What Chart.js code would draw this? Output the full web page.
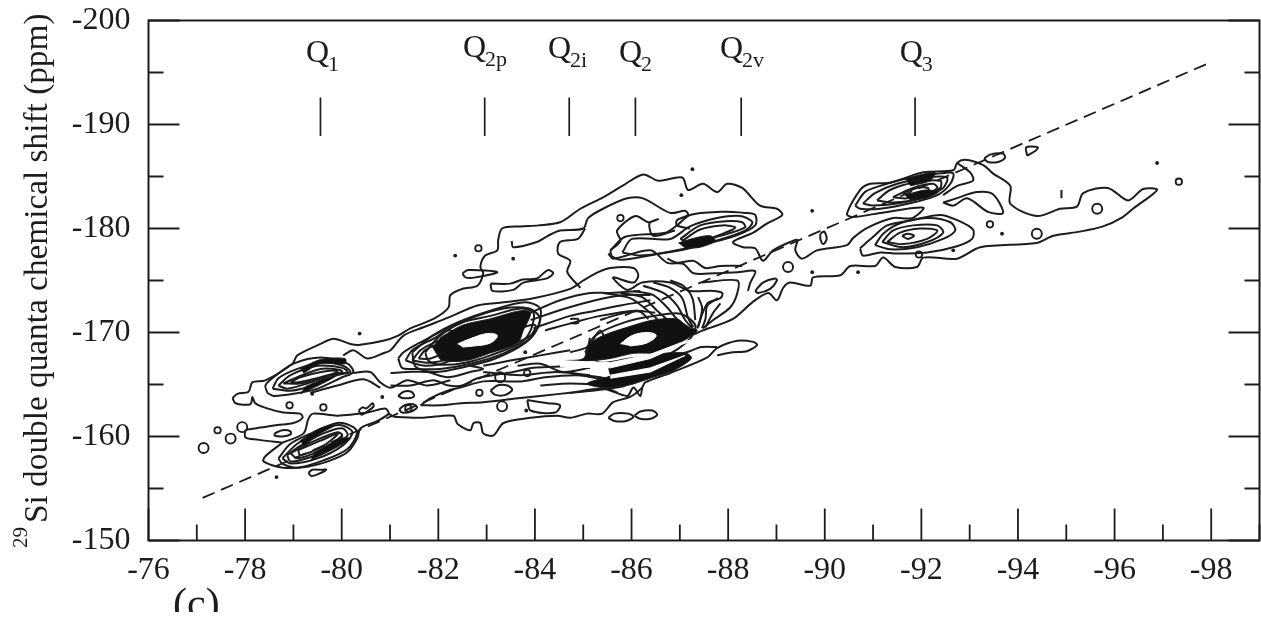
<!DOCTYPE html>
<html lang="en">
<head>
<meta charset="UTF-8">
<title>29Si double quanta spectrum</title>
<script src="https://cdn.jsdelivr.net/npm/chart.js"></script>
<style>
    html, body { margin: 0; padding: 0; background: #fff; overflow: hidden; }
    canvas { display: block; filter: blur(0.45px); }
</style>
</head>
<body>
<canvas id="spectrum" width="1267" height="619"></canvas>
<script>
// axis ranges
const xRange = [-99, -76];
const yRange = [-200, -150];
const yTitle = "Si double quanta chemical shift (ppm)";

// Q site markers
const qSubs = ["1", "2p", "2i", "2", "2v", "3"];
const qStickX = [-79.56, -82.96, -84.71, -86.08, -88.27, -91.87];
const qStickY = [-192.6, -188.9];
const qLabelX = [-79.26, -82.51, -84.27, -85.74, -87.83, -91.55];
const qLabelY = [-196.0, -196.5, -196.4, -196.0, -196.4, -196.0];

// correlation diagonal
const diagonal = [[-77.12, -154.1], [-98.0, -196.0]];

// main outer contour, Q1 to the Q3 wing and back under it
const outerMain = [[-77.74,-163.7],[-77.84,-164.1],[-78.07,-164.3],[-78.15,-165.2],[-78.42,-165.4],[-78.98,-167.0],[-79.08,-167.8],[-79.56,-168.9],[-79.83,-169.4],[-80.18,-168.9],[-80.35,-168.8],[-80.86,-169.2],[-81.17,-169.7],[-81.42,-170.4],[-81.90,-171.3],[-82.21,-172.4],[-82.25,-173.6],[-82.50,-174.2],[-82.81,-174.5],[-82.93,-175.7],[-82.87,-176.3],[-82.97,-177.4],[-83.22,-177.9],[-83.24,-178.9],[-83.32,-180.0],[-83.70,-180.2],[-84.07,-180.3],[-84.52,-180.6],[-84.94,-181.9],[-85.41,-183.0],[-85.81,-184.1],[-86.24,-185.2],[-86.55,-184.6],[-87.05,-184.9],[-87.17,-183.7],[-87.48,-184.3],[-87.77,-183.5],[-87.98,-184.3],[-88.29,-183.9],[-88.66,-182.2],[-89.01,-181.9],[-89.12,-181.3],[-88.81,-180.5],[-88.52,-179.6],[-88.10,-178.7],[-88.31,-178.2],[-88.56,-178.1],[-88.72,-176.9],[-88.93,-177.9],[-89.28,-178.7],[-89.43,-178.9],[-89.39,-177.9],[-89.53,-177.1],[-89.84,-177.9],[-90.46,-178.4],[-90.59,-179.1],[-90.90,-180.1],[-91.41,-181.0],[-91.81,-181.0],[-92.04,-182.0],[-91.15,-181.5],[-90.59,-181.1],[-90.46,-181.4],[-90.73,-183.7],[-90.94,-184.3],[-91.35,-184.4],[-92.04,-185.4],[-92.66,-185.6],[-92.74,-186.3],[-92.90,-186.6],[-93.28,-186.1],[-93.48,-185.3],[-93.84,-184.1],[-93.84,-182.4],[-94.39,-181.2],[-94.87,-181.9],[-95.22,-182.1],[-95.35,-183.4],[-95.86,-183.9],[-96.28,-182.7],[-96.59,-183.8],[-96.88,-183.7],[-96.38,-181.9],[-96.17,-181.1],[-95.76,-180.2],[-95.28,-179.7],[-94.73,-179.3],[-94.39,-178.6],[-93.22,-178.2],[-92.74,-177.1],[-92.04,-177.2],[-91.91,-176.3],[-91.46,-176.3],[-91.21,-177.2],[-91.04,-176.4],[-90.53,-176.4],[-90.32,-175.5],[-89.76,-175.3],[-89.70,-174.5],[-89.28,-174.8],[-89.14,-174.3],[-89.01,-173.1],[-88.83,-173.8],[-88.50,-172.9],[-88.10,-171.3],[-87.48,-170.2],[-87.28,-169.8]];
const q1Left = [[-77.74,-163.7],[-77.80,-163.2],[-78.11,-163.1],[-78.15,-163.8],[-78.21,-163.2],[-78.46,-162.7],[-78.79,-162.3],[-79.14,-162.2],[-79.19,-161.8],[-79.00,-161.3],[-78.67,-161.1],[-78.38,-160.9],[-78.11,-160.7],[-78.01,-160.6],[-78.01,-159.9],[-78.26,-159.7],[-78.77,-159.4]];
const q1LowOuter = [[-78.77,-159.4],[-78.42,-158.1],[-78.38,-157.6],[-78.79,-157.0],[-79.29,-157.1],[-79.77,-157.7],[-80.12,-158.5],[-80.32,-159.8],[-80.39,-160.8],[-80.74,-161.5],[-80.97,-162.2],[-80.90,-162.7],[-80.53,-162.3],[-79.91,-162.0],[-79.41,-162.2],[-79.31,-161.7],[-79.21,-160.3],[-78.77,-159.4]];
const bottomEdge = [[-81.07,-161.9],[-81.69,-161.8],[-82.31,-162.0],[-82.40,-161.2],[-82.66,-160.6],[-82.73,-161.3],[-82.87,-161.3],[-82.93,-160.3],[-83.14,-160.1],[-83.35,-161.3],[-83.91,-161.8],[-84.46,-162.0],[-84.73,-161.8],[-85.08,-162.2],[-85.39,-162.2],[-85.62,-163.3],[-85.97,-163.8],[-86.22,-164.7],[-86.28,-165.2],[-86.80,-166.1],[-87.57,-167.6],[-87.77,-168.5],[-88.19,-169.2],[-88.52,-169.1],[-88.60,-168.8],[-88.39,-168.2],[-88.10,-168.1],[-87.77,-167.8]];
const bottomLink = [[-80.97,-162.2],[-81.07,-161.9]];
const q2LobeTop = [[-87.77,-168.6],[-87.45,-168.6],[-87.14,-168.1],[-86.80,-167.7]];

// upper contours through the middle
const upperInner = [[-80.03,-167.8],[-80.24,-168.3],[-80.53,-167.5],[-80.86,-168.0],[-81.01,-168.3],[-81.28,-169.7],[-81.69,-170.5],[-82.19,-171.4],[-82.81,-172.6],[-83.35,-172.9],[-83.97,-173.3],[-84.73,-174.2],[-85.00,-175.0],[-85.31,-175.8],[-85.56,-176.2],[-86.04,-176.2],[-86.14,-175.5],[-86.04,-174.8],[-85.62,-175.3],[-85.77,-174.5],[-85.93,-174.1],[-86.22,-174.8],[-86.80,-174.8],[-87.21,-174.0],[-87.69,-174.0],[-87.88,-173.8],[-87.84,-173.3],[-87.57,-172.8],[-87.36,-170.4]];
const upperRight = [[-87.46,-174.8],[-88.19,-175.0],[-88.19,-173.8],[-88.04,-172.4],[-87.69,-171.2],[-87.48,-170.4]];
const upperBand = [[-85.52,-177.6],[-85.62,-177.1],[-86.39,-177.9],[-86.74,-176.7],[-87.07,-176.6],[-87.28,-175.7],[-87.73,-175.7],[-88.19,-175.8],[-88.56,-175.9],[-88.46,-174.8],[-88.41,-174.0]];
const bandLower = [[-86.74,-177.1],[-86.94,-176.7],[-87.28,-176.9],[-87.53,-176.2],[-87.84,-176.4],[-88.29,-176.4]];
const lobeFar = [[-88.56,-174.0],[-88.72,-174.8],[-88.97,-175.2],[-89.01,-175.0],[-88.87,-174.2],[-88.62,-173.8],[-88.56,-174.0]];
const lobeMid = [[-83.08,-174.7],[-83.12,-174.0],[-83.55,-174.1],[-83.76,-174.8],[-84.25,-175.2],[-84.38,-175.7],[-84.27,-176.0],[-84.04,-175.2],[-83.74,-175.1],[-83.49,-174.7],[-83.08,-174.7]];
const lobeSmall = [[-82.50,-175.7],[-82.62,-176.0],[-83.22,-175.8],[-82.77,-175.3],[-82.56,-175.3],[-82.50,-175.7]];
const leftSecond = [[-83.52,-178.8],[-83.55,-178.2],[-84.04,-178.7],[-84.27,-179.3],[-84.52,-179.8],[-85.00,-180.0],[-85.10,-181.0],[-85.41,-181.9],[-85.91,-182.9],[-86.24,-182.9],[-86.80,-181.5],[-87.11,-181.7],[-87.17,-181.3],[-86.94,-180.8],[-86.94,-180.3],[-87.21,-180.0]];
const leftThird = [[-84.94,-174.3],[-84.67,-175.8],[-84.73,-176.9],[-84.48,-177.6],[-84.52,-178.7],[-84.89,-179.0],[-85.04,-180.0]];
const q2vFinger = [[-85.56,-177.9],[-85.77,-178.8],[-85.70,-179.8],[-86.08,-181.2],[-86.35,-180.6],[-86.55,-180.9],[-86.37,-180.5],[-86.45,-179.3],[-86.90,-179.8]];

// Q2v rings
const q2vRing1 = [[-85.56,-177.9],[-85.60,-177.3],[-85.81,-177.0],[-86.59,-177.6],[-87.42,-178.4],[-88.15,-179.3],[-88.56,-180.3],[-88.56,-181.3],[-88.35,-181.5],[-87.84,-181.6],[-87.21,-181.3],[-86.94,-180.3],[-86.70,-179.6],[-85.87,-179.2],[-85.56,-177.9]];
const q2vRing2 = [[-85.81,-177.7],[-86.01,-179.0],[-86.80,-179.0],[-87.21,-180.2],[-87.77,-181.0],[-88.25,-181.2],[-88.50,-180.6],[-88.35,-179.8],[-87.73,-178.8],[-87.01,-177.9],[-86.18,-177.4],[-85.81,-177.7]];
const q2vRing3 = [[-87.01,-179.0],[-87.42,-180.3],[-87.94,-180.7],[-88.29,-180.6],[-88.35,-180.1],[-87.84,-179.3],[-87.21,-178.6],[-87.01,-179.0]];
const q2vRing4 = [[-87.05,-178.8],[-87.42,-179.9],[-87.88,-180.3],[-88.15,-180.1],[-87.94,-179.6],[-87.21,-178.4],[-87.05,-178.8]];
const q2vDark = [[-86.97,-178.6],[-87.32,-179.1],[-87.63,-179.3],[-87.73,-178.8],[-87.42,-178.2],[-87.11,-178.1]];

// contours fanning out of the Q2 peak
const fanLines = [
    [[-86.80,-175.0],[-87.07,-174.5],[-87.26,-173.3],[-87.32,-171.2]],
    [[-86.45,-174.8],[-86.80,-174.3],[-87.05,-173.3],[-87.17,-171.4],[-87.28,-170.5]],
    [[-86.24,-174.5],[-86.66,-173.8],[-86.94,-172.6],[-87.11,-171.2],[-87.26,-170.4]],
    [[-86.04,-174.0],[-86.45,-173.6],[-86.74,-172.4],[-86.94,-171.3],[-87.21,-170.4]],
    [[-85.77,-173.8],[-86.22,-173.4],[-86.53,-172.1],[-86.80,-171.0]],
    [[-85.41,-173.8],[-85.97,-173.3],[-86.28,-172.3],[-86.55,-171.2]],
    [[-87.38,-173.4],[-87.46,-172.4],[-87.42,-171.2],[-87.38,-170.5]],
    [[-87.79,-173.3],[-87.57,-172.6],[-87.53,-171.3],[-87.46,-170.4]],
    [[-87.84,-172.8],[-87.69,-171.9],[-87.53,-170.5]]
];
const hatchLines = [
    [[-83.91,-171.9],[-84.52,-173.1],[-85.14,-173.8],[-85.56,-173.8],[-86.18,-174.0]],
    [[-83.91,-171.2],[-84.63,-172.3],[-85.25,-173.1],[-85.87,-173.6],[-86.39,-173.6]],
    [[-83.97,-170.4],[-84.73,-171.6],[-85.25,-172.1],[-85.77,-172.6],[-86.39,-173.1]],
    [[-84.21,-170.2],[-84.83,-171.0],[-85.35,-171.6],[-86.08,-172.1],[-86.49,-171.9]],
    [[-85.35,-171.2],[-85.62,-171.6],[-85.97,-172.0],[-86.18,-172.0],[-86.35,-171.3]],
    [[-84.73,-171.3],[-84.89,-171.3],[-84.89,-170.9],[-84.73,-170.9]]
];

// long contours under the Q2p and Q2 peaks
const lowerLines = [
    [[-80.24,-166.1],[-80.59,-166.2],[-80.80,-165.2],[-81.01,-164.7],[-81.36,-165.4],[-81.77,-164.9],[-82.25,-165.4]],
    [[-79.35,-164.2],[-79.91,-164.9],[-80.45,-165.5],[-80.80,-164.7]],
    [[-81.01,-166.1],[-81.36,-166.2],[-81.77,-166.2],[-82.19,-165.7],[-82.66,-166.2],[-82.93,-166.5],[-82.66,-166.8]],
    [[-81.01,-164.9],[-81.42,-164.9],[-81.90,-165.4],[-82.21,-164.9],[-82.50,-164.9],[-82.81,-165.6],[-83.55,-166.2],[-83.97,-166.6],[-84.67,-166.8],[-85.14,-167.5]],
    [[-83.64,-166.8],[-84.11,-167.0],[-84.59,-166.2],[-85.14,-166.6]],
    [[-84.73,-166.1],[-85.56,-165.4],[-86.18,-165.6]],
    [[-84.73,-164.2],[-85.41,-164.6],[-85.91,-163.9],[-86.04,-164.7],[-86.18,-163.9],[-86.22,-164.7]],
    [[-82.93,-166.8],[-83.49,-167.3],[-84.11,-167.8],[-84.73,-168.3]],
    [[-85.14,-169.5],[-85.08,-168.6],[-84.73,-168.1]],
    [[-82.93,-166.2],[-83.70,-165.9],[-84.43,-166.2],[-85.14,-165.9]],
    [[-84.11,-164.9],[-84.73,-165.1],[-85.35,-164.9],[-85.72,-164.2]]
];
const lobeLower = [[-81.63,-163.0],[-81.84,-163.7],[-82.25,-164.5],[-82.46,-164.7],[-82.93,-165.3],[-83.70,-165.3],[-84.21,-165.7],[-84.83,-165.9],[-85.35,-165.7],[-85.87,-164.9],[-85.35,-164.5],[-84.73,-164.2],[-84.11,-163.9],[-83.70,-163.7],[-82.93,-163.3],[-82.46,-163.2],[-82.04,-163.0],[-81.63,-163.0]];
const lobeLower2 = [[-83.84,-163.5],[-84.27,-163.2],[-84.52,-163.0],[-84.42,-162.3],[-83.91,-162.5],[-83.84,-163.5]];

// Q1 rings
const q1Upper = [
    [[-78.46,-164.2],[-78.42,-164.9],[-78.59,-165.7],[-79.00,-167.0],[-79.56,-167.6],[-80.12,-167.0],[-80.24,-166.2],[-80.01,-165.7],[-79.50,-164.6],[-79.00,-164.1],[-78.59,-163.9],[-78.46,-164.2]],
    [[-78.57,-164.6],[-78.69,-165.6],[-79.08,-166.5],[-79.56,-167.1],[-80.03,-166.8],[-80.18,-166.2],[-79.91,-165.9],[-79.41,-164.9],[-78.94,-164.4],[-78.57,-164.6]],
    [[-78.69,-164.9],[-78.94,-165.9],[-79.50,-166.8],[-80.01,-166.6],[-80.12,-166.2],[-79.77,-165.9],[-79.29,-165.1],[-78.87,-164.6],[-78.69,-164.9]],
    [[-78.79,-165.1],[-79.08,-165.7],[-79.56,-166.5],[-79.97,-166.4],[-80.01,-166.2],[-79.62,-165.7],[-79.14,-165.1],[-78.79,-165.1]],
    [[-78.94,-165.2],[-79.14,-165.7],[-79.70,-166.3],[-79.91,-166.3],[-79.87,-166.1],[-79.56,-165.7],[-79.08,-165.2],[-78.94,-165.2]]
];
const q1Lower = [
    [[-78.69,-157.9],[-78.94,-159.3],[-79.41,-160.4],[-79.91,-161.3],[-80.24,-160.9],[-80.32,-160.3],[-80.12,-158.8],[-79.62,-157.7],[-79.08,-157.0],[-78.77,-157.4],[-78.69,-157.9]],
    [[-78.77,-157.9],[-79.08,-159.3],[-79.56,-160.6],[-79.97,-161.1],[-80.22,-160.4],[-80.01,-159.1],[-79.50,-157.9],[-78.94,-157.4],[-78.77,-157.9]],
    [[-78.87,-158.2],[-79.14,-159.1],[-79.62,-160.3],[-80.01,-160.8],[-80.12,-160.1],[-79.77,-158.9],[-79.35,-158.0],[-78.94,-157.6],[-78.87,-158.2]],
    [[-78.94,-158.4],[-79.35,-159.4],[-79.91,-160.4],[-80.01,-160.1],[-79.56,-158.7],[-79.08,-157.9],[-78.94,-158.4]],
    [[-79.10,-158.7],[-79.56,-159.6],[-79.93,-160.3],[-79.62,-159.1],[-79.14,-158.2],[-79.10,-158.7]]
];

// Q2p and Q2 rings
const q2pRings = [
    [[-81.17,-167.5],[-81.28,-168.1],[-81.69,-169.2],[-82.19,-170.4],[-82.81,-171.6],[-83.35,-172.3],[-83.76,-172.4],[-83.97,-172.1],[-84.11,-171.2],[-83.91,-169.5],[-83.35,-168.0],[-82.66,-167.0],[-82.04,-166.5],[-81.48,-166.5],[-81.25,-166.6],[-81.17,-167.5]],
    [[-81.46,-168.1],[-81.88,-169.7],[-82.41,-171.0],[-83.08,-172.1],[-83.80,-172.9],[-84.11,-172.3],[-84.05,-170.4],[-83.80,-169.0],[-83.18,-167.5],[-82.56,-166.7],[-81.94,-166.2],[-81.53,-166.7],[-81.46,-168.1]],
    [[-81.73,-168.1],[-82.04,-169.7],[-82.52,-171.0],[-83.08,-171.6],[-83.70,-172.3],[-83.97,-171.9],[-83.91,-170.2],[-83.70,-169.0],[-83.08,-167.8],[-82.56,-167.1],[-82.04,-166.9],[-81.79,-167.3],[-81.73,-168.1]],
    [[-81.32,-167.3],[-81.46,-168.3],[-81.90,-169.4],[-82.25,-170.2],[-82.66,-168.8],[-82.25,-167.3],[-81.73,-166.8],[-81.32,-167.3]],
    [[-81.46,-167.3],[-81.63,-168.3],[-82.00,-169.2],[-82.35,-169.7],[-82.35,-167.8],[-81.84,-167.1],[-81.46,-167.3]],
    [[-81.59,-167.5],[-81.73,-168.3],[-82.00,-168.8],[-82.15,-168.3],[-81.84,-167.5],[-81.59,-167.5]],
    [[-83.27,-169.4],[-83.70,-170.4],[-84.01,-170.7],[-83.91,-169.7],[-83.49,-168.9],[-83.27,-169.4]]
];
const q2Rings = [
    [[-85.04,-168.1],[-85.25,-169.7],[-85.87,-171.0],[-86.49,-171.6],[-87.01,-171.8],[-87.32,-170.7],[-87.21,-169.4],[-86.70,-167.8],[-85.97,-167.5],[-85.35,-167.1],[-85.04,-168.1]],
    [[-85.19,-169.2],[-85.35,-170.2],[-85.47,-168.8],[-85.29,-168.1],[-85.19,-169.2]]
];

// Q3 rings
const q3Upper = [
    [[-90.63,-182.2],[-90.83,-183.5],[-91.15,-184.1],[-91.70,-184.8],[-92.39,-185.3],[-92.66,-185.3],[-92.60,-184.3],[-92.33,-183.2],[-91.83,-182.5],[-91.15,-181.9],[-90.73,-181.9],[-90.63,-182.2]],
    [[-90.79,-182.4],[-91.04,-183.4],[-91.50,-184.3],[-92.12,-184.9],[-92.53,-184.9],[-92.45,-183.9],[-92.04,-183.0],[-91.50,-182.4],[-90.99,-182.2],[-90.79,-182.4]],
    [[-91.08,-182.7],[-91.35,-183.7],[-91.83,-184.4],[-92.39,-184.6],[-92.39,-183.9],[-91.97,-182.9],[-91.41,-182.5],[-91.08,-182.7]],
    [[-91.41,-183.0],[-91.83,-183.9],[-92.24,-184.3],[-92.33,-183.9],[-92.04,-183.2],[-91.70,-182.9],[-91.41,-183.0]],
    [[-91.62,-183.4],[-91.91,-183.9],[-92.14,-183.9],[-92.14,-183.6],[-91.91,-183.2],[-91.62,-183.4]]
];
const q3Lower = [
    [[-90.73,-178.1],[-90.98,-179.1],[-91.29,-180.3],[-91.81,-180.8],[-92.39,-181.3],[-92.74,-180.8],[-93.07,-179.9],[-93.05,-179.0],[-92.74,-178.3],[-92.12,-177.7],[-91.50,-177.6],[-91.15,-177.7],[-90.79,-177.4],[-90.73,-178.1]],
    [[-91.04,-178.4],[-91.21,-179.5],[-91.56,-180.5],[-92.12,-181.0],[-92.60,-180.6],[-92.70,-179.8],[-92.45,-179.0],[-91.91,-178.2],[-91.35,-178.0],[-91.04,-178.4]],
    [[-91.19,-178.7],[-91.41,-179.8],[-91.83,-180.3],[-92.33,-180.3],[-92.45,-179.6],[-92.12,-178.7],[-91.62,-178.2],[-91.19,-178.7]],
    [[-91.29,-178.7],[-91.56,-179.6],[-91.97,-180.0],[-92.33,-179.8],[-92.12,-179.0],[-91.62,-178.5],[-91.29,-178.7]],
    [[-91.60,-179.3],[-91.72,-179.5],[-91.85,-179.3],[-91.72,-179.0],[-91.60,-179.3]]
];
const q3Lobe = [[-92.45,-182.5],[-92.66,-182.8],[-93.15,-183.5],[-93.48,-183.3],[-93.69,-181.5],[-93.38,-181.6],[-92.95,-182.9],[-92.66,-182.2],[-92.45,-182.5]];
const q3Inner = [[-92.74,-186.3],[-93.01,-185.4],[-93.07,-184.6],[-92.74,-184.1],[-92.45,-183.2]];

// small closed islands
const islands = [
    [[-93.30,-186.7],[-93.42,-187.1],[-93.69,-187.2],[-93.73,-186.8],[-93.59,-186.4],[-93.38,-186.4],[-93.30,-186.7]],
    [[-94.19,-187.0],[-94.17,-187.8],[-94.41,-187.8],[-94.37,-187.5],[-94.19,-187.0]],
    [[-89.91,-179.5],[-89.99,-179.7],[-90.04,-179.0],[-89.97,-178.5],[-89.91,-179.0],[-89.91,-179.5]],
    [[-94.90,-183.7],[-94.90,-182.9]],
    [[-85.52,-161.8],[-85.64,-162.2],[-85.93,-162.2],[-86.04,-161.9],[-85.89,-161.5],[-85.64,-161.5],[-85.52,-161.8]],
    [[-86.06,-162.0],[-86.18,-162.4],[-86.43,-162.5],[-86.53,-162.1],[-86.39,-161.7],[-86.18,-161.7],[-86.06,-162.0]],
    [[-78.61,-160.3],[-78.77,-160.6],[-78.94,-160.5],[-78.94,-160.2],[-78.77,-160.0],[-78.61,-160.1],[-78.61,-160.3]],
    [[-80.35,-162.5],[-80.43,-162.8],[-80.51,-162.7],[-80.64,-163.2],[-80.66,-162.9],[-80.53,-162.4],[-80.41,-162.1],[-80.35,-162.5]],
    [[-81.17,-163.9],[-81.28,-164.3],[-81.44,-164.3],[-81.50,-163.9],[-81.42,-163.7],[-81.25,-163.7],[-81.17,-163.9]],
    [[-81.19,-162.6],[-81.30,-163.0],[-81.48,-163.1],[-81.56,-162.8],[-81.44,-162.4],[-81.25,-162.3],[-81.19,-162.6]],
    [[-79.31,-156.5],[-79.39,-156.8],[-79.56,-156.8],[-79.68,-156.8],[-79.52,-156.4],[-79.37,-156.2],[-79.31,-156.5]],
    [[-83.08,-164.4],[-83.22,-164.9],[-83.43,-164.9],[-83.53,-164.5],[-83.39,-164.0],[-83.18,-164.0],[-83.08,-164.4]]
];
const ringsLarge = [[-77.14,-158.9],[-77.70,-159.8],[-77.94,-160.9],[-89.24,-176.3],[-94.39,-179.5],[-95.64,-181.9],[-83.32,-162.9],[-83.28,-165.7]];
const ringsSmall = [[-77.43,-160.6],[-78.92,-163.0],[-79.62,-162.8],[-91.95,-177.5],[-93.42,-180.4],[-97.33,-184.5],[-85.77,-181.0],[-82.85,-164.2],[-83.84,-166.1],[-82.83,-178.1],[-81.38,-162.7]];
const dots = [[-79.39,-164.1],[-78.65,-156.1],[-80.84,-163.8],[-80.37,-169.9],[-87.26,-185.7],[-87.03,-183.2],[-89.74,-181.7],[-89.74,-175.8],[-90.69,-175.8],[-96.88,-186.3],[-93.67,-179.5],[-92.66,-177.9],[-82.35,-177.4],[-83.55,-177.1],[-83.82,-162.5],[-83.80,-168.1]];

// solid black areas where the rings merge, and the white peak centres
const darkAreas = [
    [[-82.04,-169.5],[-82.50,-170.7],[-83.06,-171.3],[-83.70,-172.1],[-83.91,-171.9],[-83.76,-170.2],[-83.64,-169.0],[-83.06,-168.0],[-82.58,-167.3],[-82.08,-167.3],[-81.96,-168.0],[-81.88,-168.6]],
    [[-84.63,-167.3],[-85.00,-167.5],[-85.14,-168.9],[-85.41,-169.7],[-85.91,-170.5],[-86.45,-171.2],[-86.94,-171.3],[-87.17,-170.5],[-87.36,-170.2],[-87.07,-169.2],[-86.59,-168.1],[-86.04,-168.0],[-85.56,-167.5],[-85.00,-167.2]],
    [[-85.49,-167.0],[-86.04,-167.5],[-86.66,-168.0],[-87.14,-168.0],[-87.24,-167.5],[-86.85,-166.3],[-86.45,-165.7],[-85.91,-164.9],[-85.41,-164.7],[-85.08,-165.1],[-85.56,-165.8]],
    [[-79.14,-166.5],[-79.56,-167.4],[-80.07,-167.5],[-80.07,-167.0],[-79.56,-167.0],[-79.21,-166.1]],
    [[-79.14,-164.1],[-79.56,-165.0],[-79.87,-165.8],[-79.66,-165.6],[-79.25,-164.8]],
    [[-79.14,-159.6],[-79.56,-160.8],[-79.87,-161.1],[-79.56,-160.3],[-79.21,-159.1]],
    [[-79.35,-157.7],[-79.87,-158.9],[-80.18,-159.8],[-79.97,-159.8],[-79.45,-158.5]],
    [[-91.66,-183.2],[-92.08,-183.7],[-92.35,-183.5],[-92.08,-182.9],[-91.77,-182.7]],
    [[-91.66,-184.8],[-92.28,-185.4],[-92.18,-184.6],[-91.77,-184.1]],
    q2vDark
];
const peakCentres = [
    [[-82.40,-168.9],[-82.66,-169.4],[-83.02,-169.9],[-83.22,-169.7],[-83.08,-169.0],[-82.73,-168.7],[-82.50,-168.6]],
    [[-85.77,-168.9],[-86.01,-169.7],[-86.34,-170.0],[-86.51,-169.7],[-86.32,-169.0],[-85.97,-168.7]]
];
const whiteSlits = [
    [[-85.56,-165.9],[-86.39,-166.6],[-87.11,-167.8],[-86.39,-166.2],[-85.56,-165.6]],
    [[-84.52,-167.3],[-85.56,-167.1],[-86.39,-167.9],[-87.01,-169.0],[-87.53,-169.7],[-87.01,-168.8],[-86.39,-167.5],[-85.56,-166.6],[-84.52,-166.7]]
];

const contourLines = [
    outerMain, q1Left, q1LowOuter, bottomEdge, bottomLink, q2LobeTop,
    upperInner, upperRight, upperBand, bandLower, lobeFar, lobeMid, lobeSmall,
    leftSecond, leftThird, q2vFinger, q2vRing1, q2vRing2, q2vRing3, q2vRing4,
    lobeLower, lobeLower2, q3Lobe, q3Inner,
    ...fanLines, ...hatchLines, ...lowerLines,
    ...q1Upper, ...q1Lower, ...q2pRings, ...q2Rings, ...q3Upper, ...q3Lower, ...islands
];

const ink = "#1c1c1c";
const serif = "'Liberation Serif', serif";

function toPoints(pairs) {
    return pairs.map(p => ({ x: p[0], y: p[1] }));
}

const datasets = [];

contourLines.forEach(line => {
    datasets.push({ data: toPoints(line), showLine: true, borderColor: ink, borderWidth: 2, pointRadius: 0, tension: 0.3, order: 5 });
});
darkAreas.forEach(area => {
    datasets.push({ data: toPoints(area), showLine: true, borderColor: ink, borderWidth: 1, backgroundColor: "#111", fill: "shape", pointRadius: 0, tension: 0.3, order: 3 });
});
peakCentres.forEach(area => {
    datasets.push({ data: toPoints(area), showLine: true, borderColor: "#fff", borderWidth: 1, backgroundColor: "#fff", fill: "shape", pointRadius: 0, tension: 0.4, order: 2 });
});
whiteSlits.forEach(area => {
    datasets.push({ data: toPoints(area), showLine: true, borderColor: "#fff", borderWidth: 1, backgroundColor: "#fff", fill: "shape", pointRadius: 0, tension: 0, order: 2 });
});

datasets.push({ data: toPoints(ringsLarge), pointRadius: 5, pointBorderColor: ink, pointBorderWidth: 1.9, pointBackgroundColor: "rgba(0,0,0,0)", order: 4 });
datasets.push({ data: toPoints(ringsSmall), pointRadius: 3.2, pointBorderColor: ink, pointBorderWidth: 1.8, pointBackgroundColor: "rgba(0,0,0,0)", order: 4 });
datasets.push({ data: toPoints(dots), pointRadius: 1.9, pointBorderWidth: 0, pointBackgroundColor: ink, order: 4 });

datasets.push({ data: toPoints(diagonal), showLine: true, borderColor: ink, borderWidth: 1.8, borderDash: [13, 7], pointRadius: 0, order: 6 });

qStickX.forEach(x => {
    datasets.push({ data: qStickY.map(y => ({ x: x, y: y })), showLine: true, borderColor: ink, borderWidth: 1.7, pointRadius: 0, order: 1 });
});

// frame, inward ticks and the texts Chart.js has no option for
const paperPlugin = {
    id: "paper",
    afterDatasetsDraw(chart) {
        const ctx = chart.ctx;
        const area = chart.chartArea;
        const sx = chart.scales.x;
        const sy = chart.scales.y;
        ctx.save();
        ctx.strokeStyle = ink;
        ctx.lineWidth = 2;
        ctx.strokeRect(area.left, area.top, area.right - area.left, area.bottom - area.top);
        ctx.lineWidth = 1.8;
        ctx.beginPath();
        sx.ticks.forEach(t => {
            const px = sx.getPixelForValue(t.value);
            const len = t.value % 2 === 0 ? 32 : 16;
            ctx.moveTo(px, area.bottom);
            ctx.lineTo(px, area.bottom - len);
        });
        sy.ticks.forEach(t => {
            const py = sy.getPixelForValue(t.value);
            const len = t.value % 10 === 0 ? 31 : 15;
            ctx.moveTo(area.left, py);
            ctx.lineTo(area.left + len, py);
            ctx.moveTo(area.right, py);
            ctx.lineTo(area.right - len, py);
        });
        ctx.stroke();

        ctx.fillStyle = ink;
        ctx.textBaseline = "alphabetic";
        ctx.textAlign = "left";
        qSubs.forEach((sub, i) => {
            const px = sx.getPixelForValue(qLabelX[i]);
            const py = sy.getPixelForValue(qLabelY[i]);
            ctx.font = "32px " + serif;
            ctx.fillText("Q", px, py);
            const w = ctx.measureText("Q").width;
            ctx.font = "22px " + serif;
            ctx.fillText(sub, px + w - 1, py + 9);
        });

        ctx.save();
        ctx.translate(47, 523);
        ctx.rotate(-Math.PI / 2);
        ctx.font = "33.3px " + serif;
        ctx.fillText(yTitle, 0, 0);
        ctx.font = "21px " + serif;
        ctx.fillText("29", -25, -20);
        ctx.restore();

        ctx.beginPath();
        ctx.rect(0, 0, chart.width, 612);
        ctx.clip();
        ctx.font = "42px " + serif;
        ctx.fillText("(c)", 173, 617);
        ctx.restore();
    }
};

new Chart(document.getElementById("spectrum"), {
    type: "scatter",
    data: { datasets: datasets },
    options: {
        responsive: false,
        animation: false,
        events: [],
        layout: { padding: { top: 20.5, right: 7.5, left: 0, bottom: 0 } },
        plugins: { legend: { display: false }, tooltip: { enabled: false } },
        scales: {
            x: {
                type: "linear",
                reverse: true,
                min: xRange[0],
                max: xRange[1],
                afterFit: s => { s.height = 78.5; s.paddingLeft = 0; s.paddingRight = 0; },
                grid: { display: false },
                border: { display: false },
                ticks: {
                    stepSize: 1,
                    autoSkip: false,
                    maxRotation: 0,
                    padding: 3,
                    color: ink,
                    font: { family: "Liberation Serif", size: 32 },
                    callback: v => (v % 2 === 0 ? String(v) : "")
                }
            },
            y: {
                type: "linear",
                reverse: true,
                min: yRange[0],
                max: yRange[1],
                afterFit: s => { s.width = 148.5; s.paddingTop = 0; s.paddingBottom = 0; },
                grid: { display: false },
                border: { display: false },
                ticks: {
                    stepSize: 5,
                    autoSkip: false,
                    padding: 10,
                    color: ink,
                    font: { family: "Liberation Serif", size: 32 },
                    callback: v => (v % 10 === 0 ? String(v) : "")
                }
            }
        }
    },
    plugins: [paperPlugin]
});
</script>
</body>
</html>
